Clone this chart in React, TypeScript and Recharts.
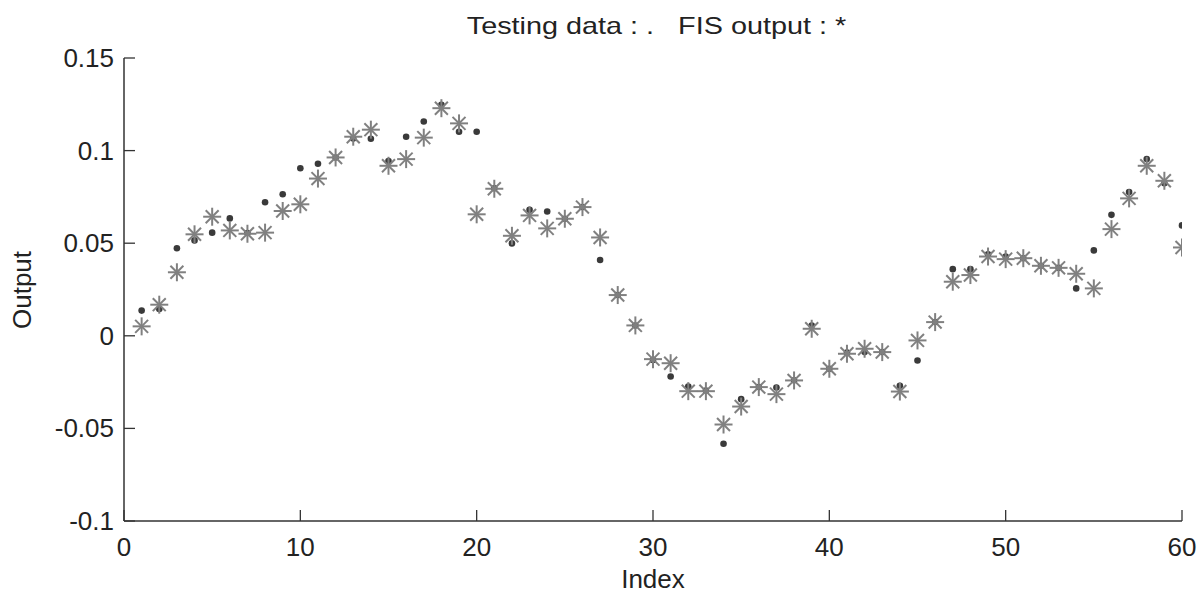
import { ScatterChart, Scatter, XAxis, YAxis, Label } from 'recharts'

const FONT = '"Liberation Sans", Arial, Helvetica, sans-serif'
const INK = '#222'
const AXIS = '#333'

const indices = [
  1, 2, 3, 4, 5, 6, 7, 8, 9, 10, 11, 12, 13, 14, 15, 16, 17, 18, 19, 20,
  21, 22, 23, 24, 25, 26, 27, 28, 29, 30, 31, 32, 33, 34, 35, 36, 37, 38, 39, 40,
  41, 42, 43, 44, 45, 46, 47, 48, 49, 50, 51, 52, 53, 54, 55, 56, 57, 58, 59, 60,
]

// testing data (dots)
const testing = [
  0.0136, 0.0145, 0.0473, 0.0515, 0.0557, 0.0634, 0.0555, 0.0721, 0.0764, 0.0905,
  0.0929, 0.0963, 0.1066, 0.1064, 0.0943, 0.1075, 0.1157, 0.1247, 0.1102, 0.1102,
  0.0797, 0.0499, 0.068, 0.0671, 0.0632, 0.0695, 0.0409, 0.022, 0.0056, -0.013,
  -0.022, -0.0274, -0.0295, -0.0583, -0.0342, -0.0277, -0.0279, -0.024, 0.0056, -0.0178,
  -0.009, -0.0088, -0.0088, -0.027, -0.0133, 0.0074, 0.036, 0.036, 0.044, 0.0428,
  0.0419, 0.0378, 0.0367, 0.0256, 0.0461, 0.0653, 0.0776, 0.0954, 0.0824, 0.0596,
]

// FIS output (stars)
const fisOutput = [
  0.0051, 0.0168, 0.0343, 0.0548, 0.0643, 0.0569, 0.0551, 0.0557, 0.0674, 0.071,
  0.0849, 0.0963, 0.1075, 0.1113, 0.0918, 0.0954, 0.107, 0.1229, 0.1147, 0.0656,
  0.0794, 0.054, 0.065, 0.058, 0.0632, 0.0695, 0.0531, 0.022, 0.0056, -0.0126,
  -0.0148, -0.0299, -0.0299, -0.0479, -0.0382, -0.0277, -0.0315, -0.0241, 0.0038, -0.0178,
  -0.0097, -0.007, -0.0088, -0.0301, -0.0025, 0.0074, 0.0292, 0.0328, 0.0428, 0.0414,
  0.0419, 0.0378, 0.0367, 0.0335, 0.0256, 0.0576, 0.0742, 0.0918, 0.0837, 0.0477,
]

const xTicks = [0, 10, 20, 30, 40, 50, 60]
const yTicks = [-0.1, -0.05, 0, 0.05, 0.1, 0.15]

const testingPts = indices.map((i, k) => ({ x: i, y: testing[k] }))
const fisPts = indices.map((i, k) => ({ x: i, y: fisOutput[k] }))

const TICK_LEN = 11

function XTick(props: any) {
  const { x, y, payload } = props
  return (
    <g>
      <line x1={x} x2={x} y1={y} y2={y - TICK_LEN} stroke={AXIS} strokeWidth={1.3} />
      <text x={x} y={y + 35} textAnchor="middle" fontSize={26} fill={INK} fontFamily={FONT}>
        {String(payload.value)}
      </text>
    </g>
  )
}

function YTick(props: any) {
  const { x, y, payload } = props
  return (
    <g>
      <line x1={x} x2={x + TICK_LEN} y1={y} y2={y} stroke={AXIS} strokeWidth={1.3} />
      <text x={x - 10} y={y + 9} textAnchor="end" fontSize={26} fill={INK} fontFamily={FONT}>
        {String(payload.value)}
      </text>
    </g>
  )
}

function Dot(props: any) {
  const { cx, cy } = props
  return <circle cx={cx} cy={cy} r={3.3} fill="#3a3a3a" />
}

function Star(props: any) {
  const { cx, cy } = props
  const r = 9
  const d = r * 0.72
  return (
    <g stroke="#808080" strokeWidth={2}>
      <line x1={cx - r} x2={cx + r} y1={cy} y2={cy} />
      <line x1={cx} x2={cx} y1={cy - r} y2={cy + r} />
      <line x1={cx - d} x2={cx + d} y1={cy - d} y2={cy + d} />
      <line x1={cx - d} x2={cx + d} y1={cy + d} y2={cy - d} />
    </g>
  )
}

export default function App() {
  return (
    <div style={{ position: 'absolute', left: 0, top: 0, width: 1201, height: 594, background: '#fff', fontFamily: FONT }}>
      <div style={{
        position: 'absolute', left: 56, width: 1201, top: 12, textAlign: 'center',
        fontSize: 24, color: INK, whiteSpace: 'pre', transform: 'scaleX(1.2)', transformOrigin: '50% 0',
      }}>
        {'Testing data : .   FIS output : *'}
      </div>
      <div style={{
        position: 'absolute', left: 22, top: 290, fontSize: 26, color: INK,
        transform: 'translate(-100%, -50%) rotate(-90deg)', transformOrigin: '100% 50%',
        whiteSpace: 'nowrap', lineHeight: 1,
      }}>
        <span style={{ display: 'inline-block', transform: 'translate(50%, 0)' }}>Output</span>
      </div>
      <ScatterChart width={1201} height={594} margin={{ top: 58, right: 19, left: 0, bottom: 0 }}>
        <XAxis
          type="number" dataKey="x" domain={[0, 60]} ticks={xTicks} height={73}
          tickSize={0} tickMargin={0} tickLine={false} tick={<XTick />}
          axisLine={{ stroke: AXIS, strokeWidth: 1.5 }} allowDataOverflow
        >
          <Label value="Index" position="insideBottom" offset={6} fontSize={26} fill={INK} fontFamily={FONT} />
        </XAxis>
        <YAxis
          type="number" dataKey="y" domain={[-0.1, 0.15]} ticks={yTicks} width={124}
          tickSize={0} tickMargin={0} tickLine={false} tick={<YTick />}
          axisLine={{ stroke: AXIS, strokeWidth: 1.5 }} allowDataOverflow
        />
        <Scatter data={testingPts} shape={<Dot />} isAnimationActive={false} />
        <Scatter data={fisPts} shape={<Star />} isAnimationActive={false} />
      </ScatterChart>
    </div>
  )
}
